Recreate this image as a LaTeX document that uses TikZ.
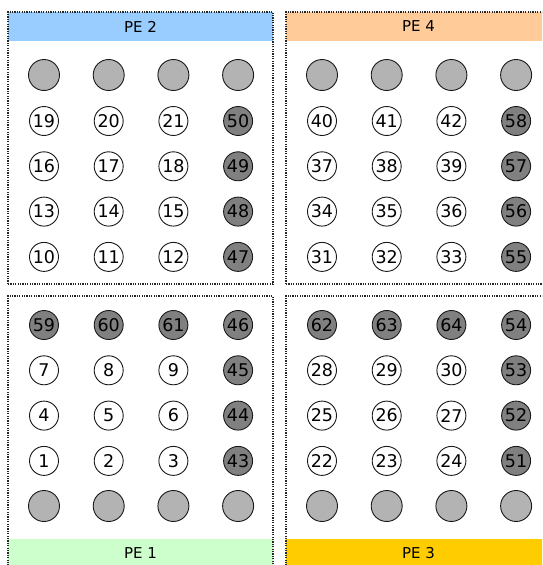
\documentclass[tikz,border=0pt]{standalone}
\usepackage{fontspec}
\setmainfont{DejaVu Sans}
\definecolor{PEBlue}{RGB}{153,204,255}
\definecolor{PEOrange}{RGB}{255,204,153}
\definecolor{PEGreen}{RGB}{204,255,204}
\definecolor{PEGold}{RGB}{255,204,0}
\definecolor{GhostGray}{RGB}{179,179,179}
\definecolor{HaloGray}{RGB}{128,128,128}

\begin{document}
\begin{tikzpicture}[x=1pt, y=-1pt]
    \tikzstyle{panel}=[draw=black!85, line width=1.3pt, dash pattern=on 1.2pt off 1.2pt, minimum width=265pt, minimum height=272pt, inner sep=0pt, outer sep=0pt]
    \tikzstyle{band}=[minimum width=265pt, minimum height=29pt, inner sep=0pt, outer sep=0pt, font=\fontsize{15}{15}\selectfont]
    \tikzstyle{ghost}=[circle, draw=black!90, line width=0.9pt, fill=GhostGray, minimum size=31pt, inner sep=0pt]
    \tikzstyle{cell}=[circle, draw=black!90, line width=0.9pt, fill=white, minimum size=29pt, inner sep=0pt, font=\fontsize{17.5}{17.5}\selectfont]
    \tikzstyle{halo}=[cell, fill=HaloGray]
    \useasboundingbox (0,0) rectangle (542,565);
    \clip (0,0) rectangle (542,565);

    % colour bands of the four PEs
    \node[band, fill=PEBlue] (pe2) at (140.5,26.5) {PE 2};
    \node[band, fill=PEOrange] (pe4) at (418.5,26.5) {PE 4};
    \node[band, fill=PEGreen] (pe1) at (140.5,553.5) {PE 1};
    \node[band, fill=PEGold] (pe3) at (418.5,553.5) {PE 3};

    % dotted outlines
    \node[panel] (box2) at (140.5,148) {};
    \node[panel] (box4) at (418.5,148) {};
    \node[panel] (box1) at (140.5,432) {};
    \node[panel] (box3) at (418.5,432) {};

    % ghost rows
    \foreach \c in {0,...,3} {
        \node[ghost] (g2\c) at (44+64.7*\c,75) {};
        \node[ghost] (g4\c) at (322+64.7*\c,75) {};
        \node[ghost] (g1\c) at (44+64.7*\c,506) {};
        \node[ghost] (g3\c) at (322+64.7*\c,506) {};
    }

    % PE 2
    \foreach \lbl [count=\i from 0] in {19,20,21,50,16,17,18,49,13,14,15,48,10,11,12,47} {
        \pgfmathtruncatemacro\c{mod(\i,4)}
        \pgfmathtruncatemacro\r{div(\i,4)}
        \ifnum\c=3 \def\sty{halo}\else\def\sty{cell}\fi
        \node[\sty] (n\lbl) at (44+64.7*\c,121+45.3*\r) {\lbl};
    }
    % PE 4
    \foreach \lbl [count=\i from 0] in {40,41,42,58,37,38,39,57,34,35,36,56,31,32,33,55} {
        \pgfmathtruncatemacro\c{mod(\i,4)}
        \pgfmathtruncatemacro\r{div(\i,4)}
        \ifnum\c=3 \def\sty{halo}\else\def\sty{cell}\fi
        \node[\sty] (n\lbl) at (322+64.7*\c,121+45.3*\r) {\lbl};
    }
    % PE 1
    \foreach \lbl [count=\i from 0] in {59,60,61,46,7,8,9,45,4,5,6,44,1,2,3,43} {
        \pgfmathtruncatemacro\c{mod(\i,4)}
        \pgfmathtruncatemacro\r{div(\i,4)}
        \def\sty{cell}
        \ifnum\c=3 \def\sty{halo}\fi
        \ifnum\r=0 \def\sty{halo}\fi
        \node[\sty] (n\lbl) at (44+64.7*\c,325+45.3*\r) {\lbl};
    }
    % PE 3
    \foreach \lbl [count=\i from 0] in {62,63,64,54,28,29,30,53,25,26,27,52,22,23,24,51} {
        \pgfmathtruncatemacro\c{mod(\i,4)}
        \pgfmathtruncatemacro\r{div(\i,4)}
        \def\sty{cell}
        \ifnum\c=3 \def\sty{halo}\fi
        \ifnum\r=0 \def\sty{halo}\fi
        \node[\sty] (n\lbl) at (322+64.7*\c,325+45.3*\r) {\lbl};
    }
\end{tikzpicture}
\end{document}
